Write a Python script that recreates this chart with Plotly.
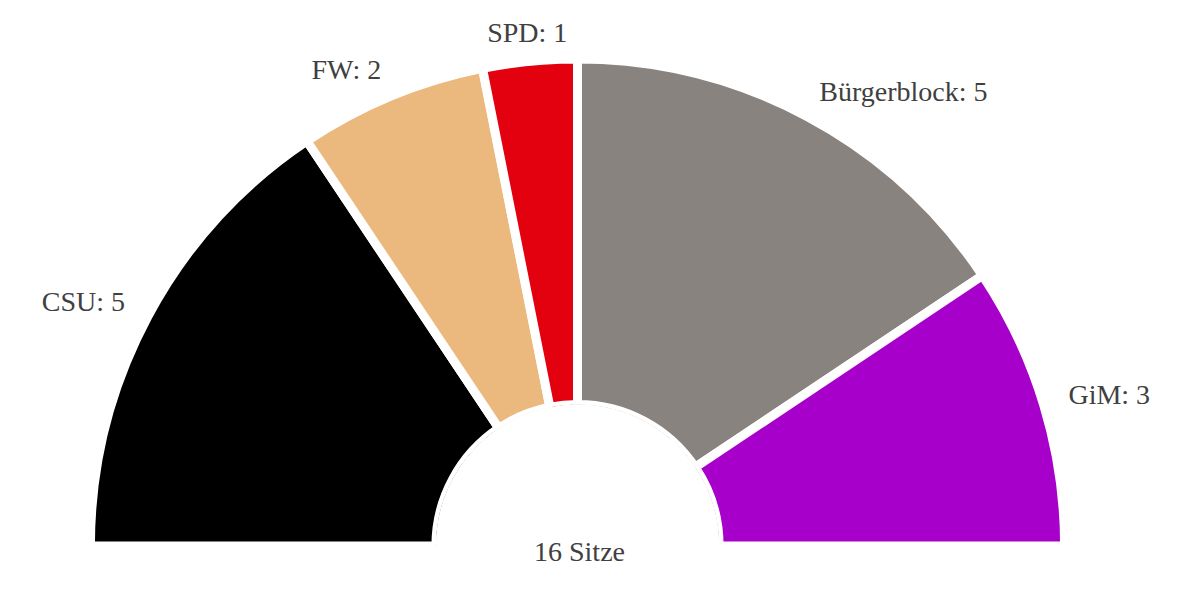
import plotly.graph_objects as go
import numpy as np

# Sitzverteilung, von links nach rechts
parteien = ['CSU', 'FW', 'SPD', 'Bürgerblock', 'GiM']
sitze = [5, 2, 1, 5, 3]
farben = ['#000000', '#EBB87E', '#E3000F', '#89837F', '#A800CB']
gesamt_text = '16 Sitze'

total = sum(sitze)
deg_per_seat = 180 / total
ends = 180 - np.cumsum(sitze) * deg_per_seat
widths = np.array(sitze) * deg_per_seat
mids = ends + widths / 2

labels = [f'{p}: {s}' for p, s in zip(parteien, sitze)]
positions = []
for m in mids:
    if m > 100:
        positions.append('middle left')
    elif m < 80:
        positions.append('middle right')
    else:
        positions.append('middle center')

font = dict(family='Liberation Serif, Times New Roman, serif', size=28, color='#404040')

LABEL_R = 1.075
R_PX = 513
cx, cy = 569.5, 538

fig = go.Figure()
fig.add_trace(go.Barpolar(
    r=[1] * len(sitze),
    theta=mids,
    width=widths,
    marker=dict(color=farben, line=dict(color='white', width=9)),
    hoverinfo='text',
    hovertext=labels,
    showlegend=False,
))
fig.add_trace(go.Scatterpolar(
    r=[LABEL_R] * len(sitze),
    theta=mids,
    mode='text',
    text=labels,
    textposition=positions,
    textfont=font,
    cliponaxis=False,
    hoverinfo='skip',
    showlegend=False,
))

fig.add_annotation(x=571 / 1200, y=(600 - 543) / 600, xref='paper', yref='paper',
                   text=gesamt_text, showarrow=False, font=font,
                   xanchor='center', yanchor='middle')

fig.update_layout(
    width=1200, height=600,
    margin=dict(l=0, r=0, t=0, b=0),
    paper_bgcolor='white',
    polar=dict(
        domain=dict(x=[(cx - R_PX) / 1200, (cx + R_PX) / 1200],
                    y=[(600 - cy) / 600, (600 - cy + R_PX) / 600]),
        sector=[0, 180],
        hole=0.276,
        bgcolor='white',
        radialaxis=dict(visible=False, range=[0, LABEL_R]),
        angularaxis=dict(visible=False, direction='counterclockwise', rotation=0),
    ),
)

fig.write_html("out.html")
